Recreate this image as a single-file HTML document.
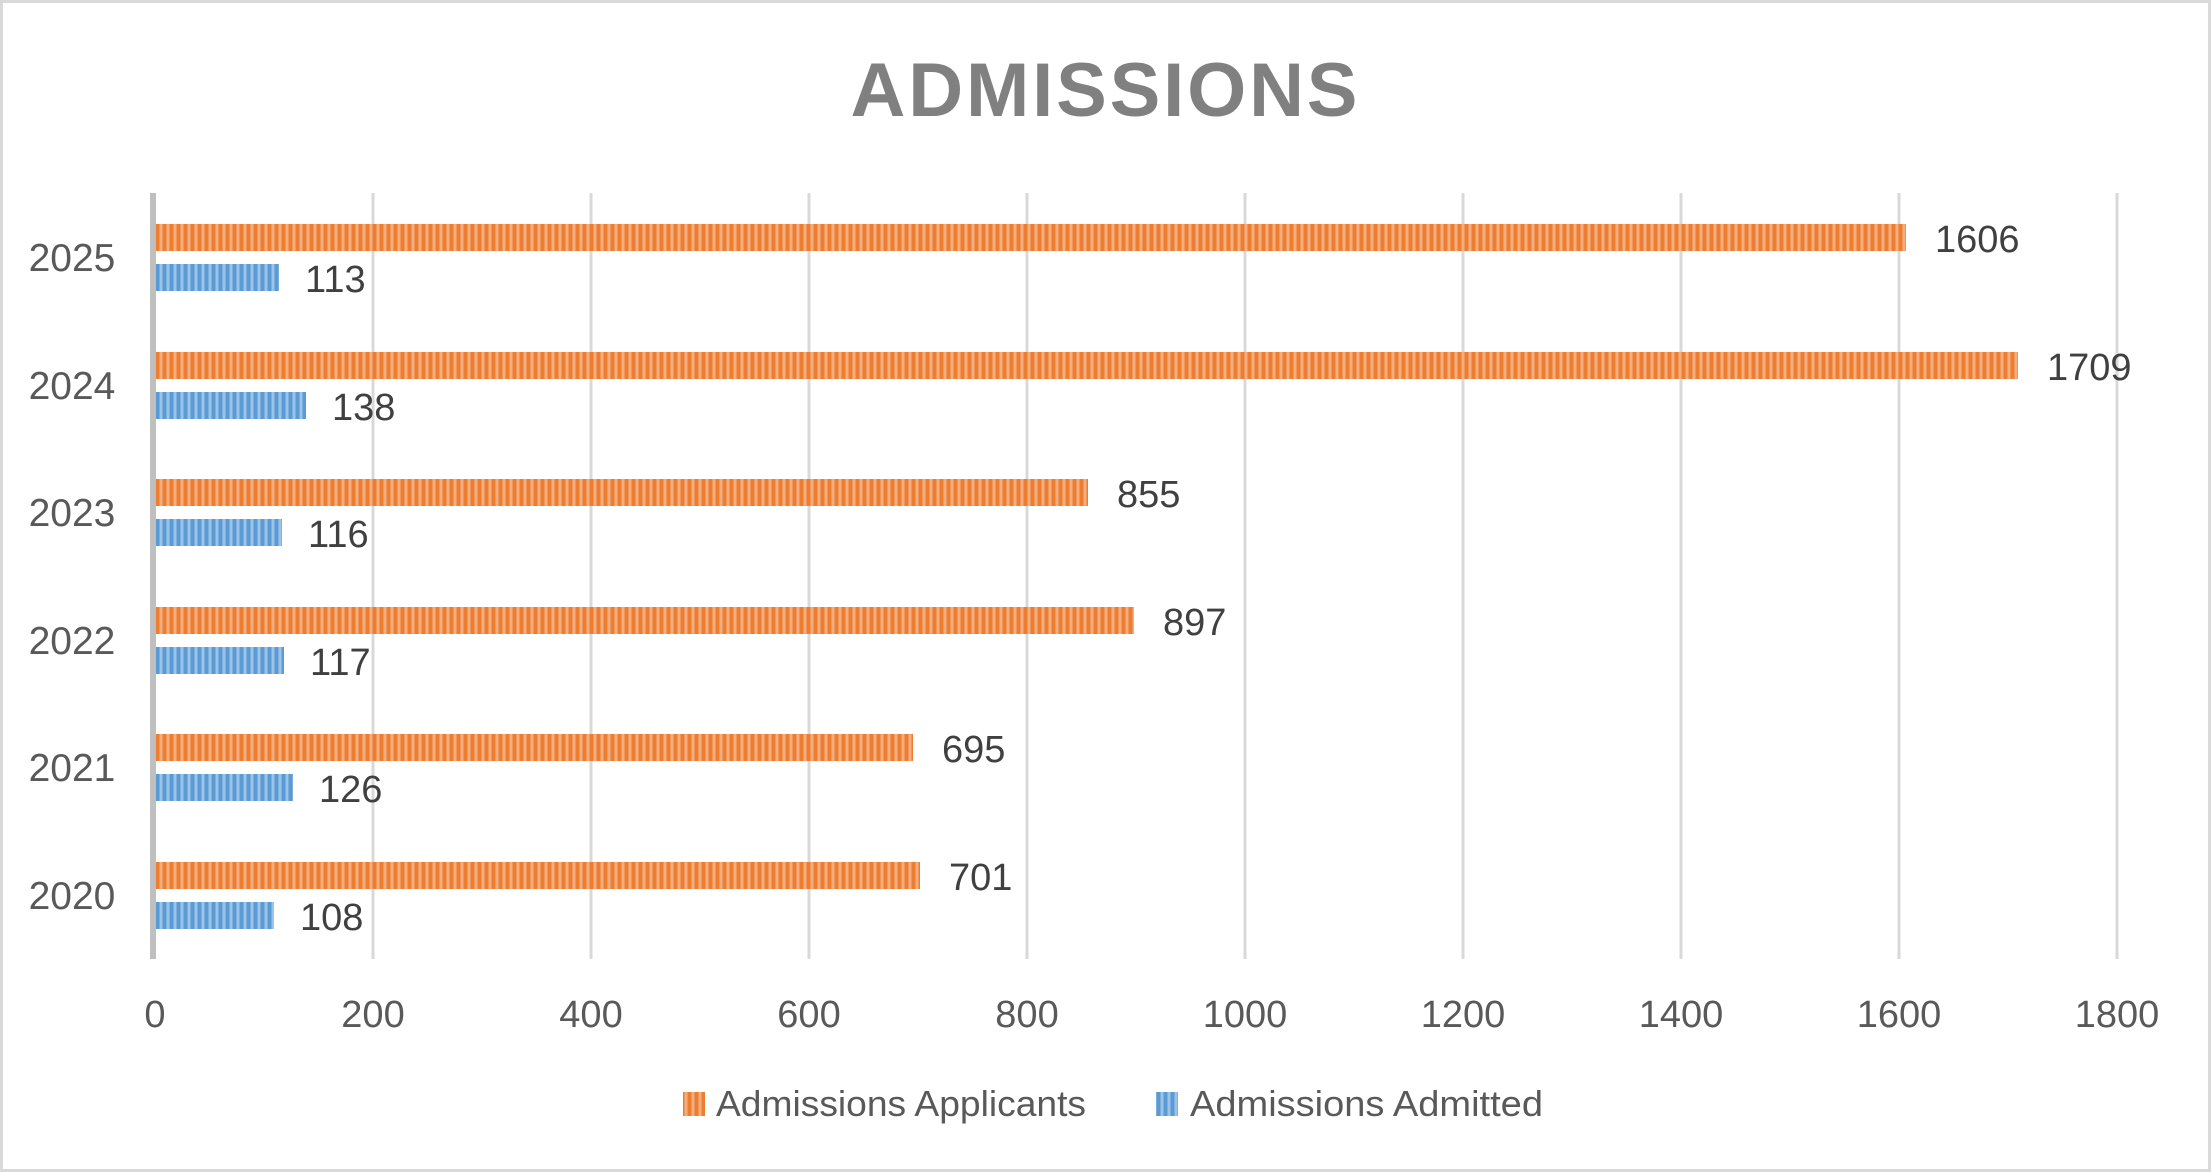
<!DOCTYPE html>
<html><head><meta charset="utf-8"><style>
html,body{margin:0;padding:0;background:#fff}
svg{display:block}
text{font-family:"Liberation Sans",sans-serif}
</style></head><body>
<svg width="2211" height="1172" viewBox="0 0 2211 1172" xmlns="http://www.w3.org/2000/svg">
<defs>
<pattern id="po" x="156" y="0" width="7" height="10" patternUnits="userSpaceOnUse">
<rect width="7" height="10" fill="#ED7D31"/>
<rect x="3.5" width="3" height="10" fill="#F4AE7E"/>
</pattern>
<pattern id="pb" x="156" y="0" width="7" height="10" patternUnits="userSpaceOnUse">
<rect width="7" height="10" fill="#5B9BD5"/>
<rect x="3.5" width="3" height="10" fill="#9CC3E8"/>
</pattern>
</defs>
<rect x="1.5" y="1.5" width="2208" height="1169" fill="#fff" stroke="#d9d9d9" stroke-width="3"/>
<text x="1104" y="116" text-anchor="middle" font-size="76" font-weight="bold" fill="#808080" textLength="507" lengthAdjust="spacing">ADMISSIONS</text>
<g stroke="#d9d9d9" stroke-width="3">
<line x1="373" y1="193" x2="373" y2="959"/>
<line x1="591" y1="193" x2="591" y2="959"/>
<line x1="809" y1="193" x2="809" y2="959"/>
<line x1="1027" y1="193" x2="1027" y2="959"/>
<line x1="1245" y1="193" x2="1245" y2="959"/>
<line x1="1463" y1="193" x2="1463" y2="959"/>
<line x1="1681" y1="193" x2="1681" y2="959"/>
<line x1="1899" y1="193" x2="1899" y2="959"/>
<line x1="2117" y1="193" x2="2117" y2="959"/>
</g>
<g font-size="38" fill="#595959" text-anchor="middle">
<text x="155" y="1027">0</text><text x="373" y="1027">200</text><text x="591" y="1027">400</text><text x="809" y="1027">600</text><text x="1027" y="1027">800</text><text x="1245" y="1027">1000</text><text x="1463" y="1027">1200</text><text x="1681" y="1027">1400</text><text x="1899" y="1027">1600</text><text x="2117" y="1027">1800</text>
</g>
<g font-size="39" fill="#595959" text-anchor="middle">
<text x="72" y="271">2025</text><text x="72" y="399">2024</text><text x="72" y="526">2023</text><text x="72" y="654">2022</text><text x="72" y="781">2021</text><text x="72" y="909">2020</text>
</g>
<g>
<rect x="156" y="224" width="1750" height="27" fill="url(#po)"/>
<rect x="156" y="264" width="123" height="27" fill="url(#pb)"/>
<rect x="156" y="352" width="1862" height="27" fill="url(#po)"/>
<rect x="156" y="392" width="150" height="27" fill="url(#pb)"/>
<rect x="156" y="479" width="932" height="27" fill="url(#po)"/>
<rect x="156" y="519" width="126" height="27" fill="url(#pb)"/>
<rect x="156" y="607" width="978" height="27" fill="url(#po)"/>
<rect x="156" y="647" width="128" height="27" fill="url(#pb)"/>
<rect x="156" y="734" width="757" height="27" fill="url(#po)"/>
<rect x="156" y="774" width="137" height="27" fill="url(#pb)"/>
<rect x="156" y="862" width="764" height="27" fill="url(#po)"/>
<rect x="156" y="902" width="118" height="27" fill="url(#pb)"/>
</g>
<g font-size="38" fill="#404040">
<text x="1935" y="252">1606</text><text x="305" y="292">113</text>
<text x="2047" y="380">1709</text><text x="332" y="420">138</text>
<text x="1117" y="507">855</text><text x="308" y="547">116</text>
<text x="1163" y="635">897</text><text x="310" y="675">117</text>
<text x="942" y="762">695</text><text x="319" y="802">126</text>
<text x="949" y="890">701</text><text x="300" y="930">108</text>
</g>
<rect x="150" y="193" width="6" height="766" fill="#bfbfbf"/>
<rect x="683" y="1092" width="22" height="24" fill="url(#po)"/>
<text x="716" y="1116" font-size="36" fill="#595959" textLength="370" lengthAdjust="spacingAndGlyphs">Admissions Applicants</text>
<rect x="1156" y="1092" width="22" height="24" fill="url(#pb)"/>
<text x="1190" y="1116" font-size="36" fill="#595959" textLength="353" lengthAdjust="spacingAndGlyphs">Admissions Admitted</text>
</svg>
</body></html>
